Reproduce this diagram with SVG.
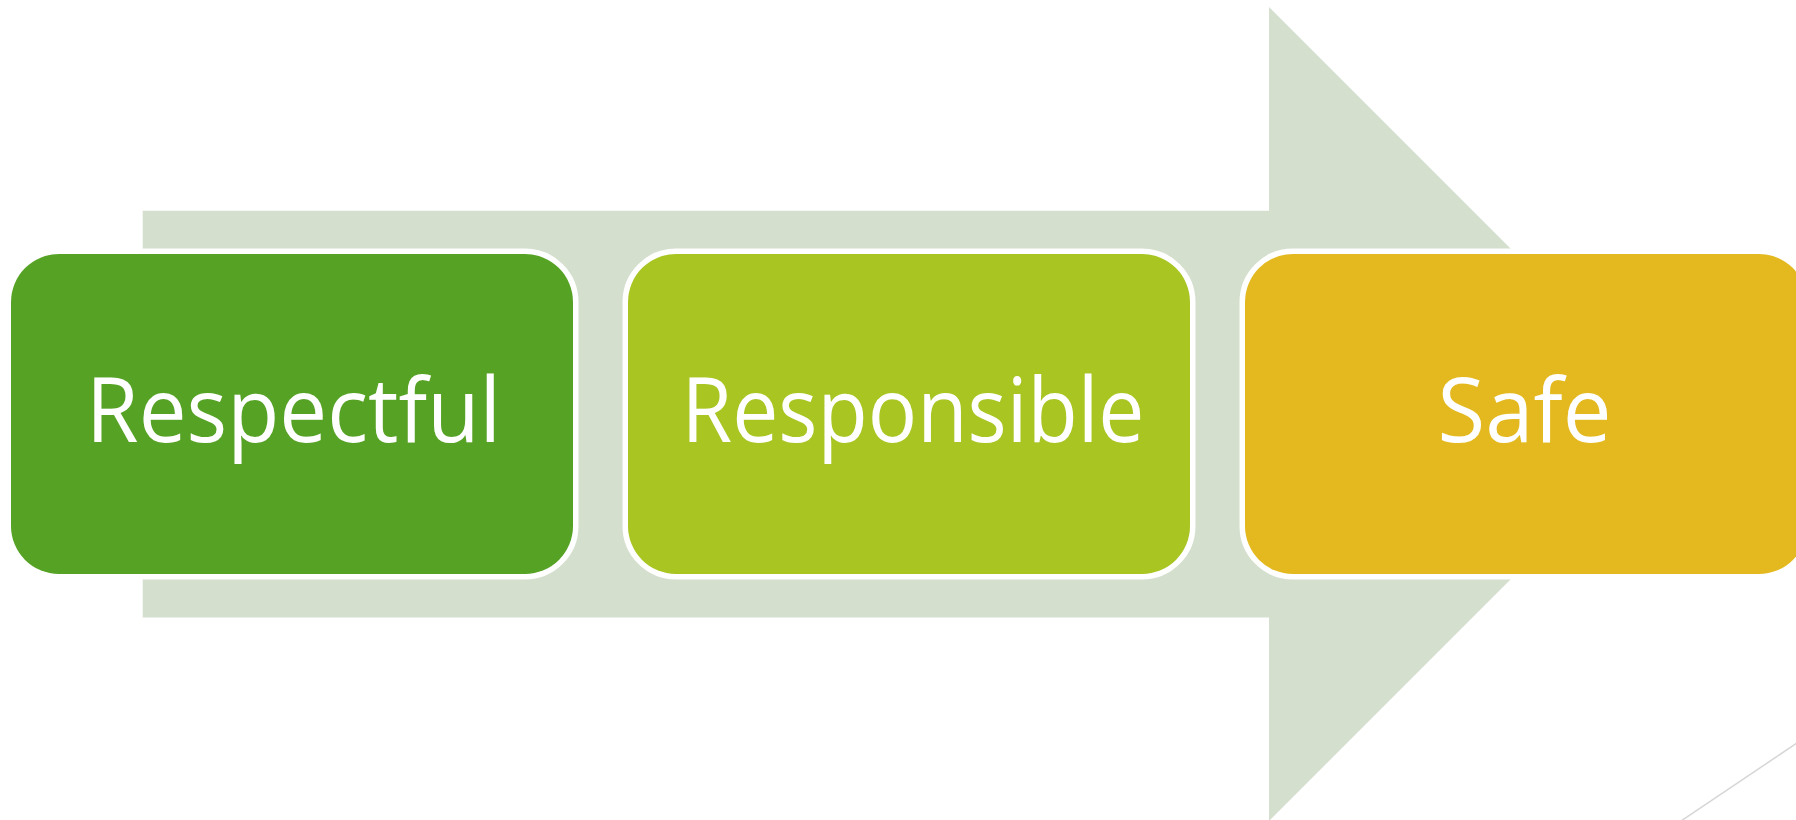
<svg xmlns="http://www.w3.org/2000/svg" width="1796" height="820" viewBox="0 0 1796 820">
  <style>
    .box { stroke: #ffffff; stroke-width: 11; paint-order: stroke; }
    .label { font-family: "Open Sans", "Noto Sans", "Liberation Sans", sans-serif; font-size: 90px; fill: #ffffff; text-anchor: middle; }
  </style>
  <rect x="0" y="0" width="1796" height="820" fill="#ffffff"/>
  <g id="arrow">
    <polygon points="142.7,210.7 1269,210.7 1269,7 1676,414 1269,821 1269,617.6 142.7,617.6" fill="#d4dfcd"/>
  </g>
  <g id="connectors">
    <line x1="1681" y1="821" x2="1797" y2="743" stroke="#d6d6d6" stroke-width="1.5"/>
  </g>
  <g id="node-respectful">
    <rect class="box" x="11" y="254" width="562" height="320" rx="48" ry="48" fill="#56a225"/>
    <text class="label" x="293.5" y="442" textLength="415" lengthAdjust="spacingAndGlyphs">Respectful</text>
  </g>
  <g id="node-responsible">
    <rect class="box" x="628" y="254" width="562" height="320" rx="48" ry="48" fill="#a8c522"/>
    <text class="label" x="913" y="442" textLength="463" lengthAdjust="spacingAndGlyphs">Responsible</text>
  </g>
  <g id="node-safe">
    <rect class="box" x="1245" y="254" width="562" height="320" rx="48" ry="48" fill="#e4b91f"/>
    <text class="label" x="1524.5" y="442" textLength="174" lengthAdjust="spacingAndGlyphs">Safe</text>
  </g>
</svg>
